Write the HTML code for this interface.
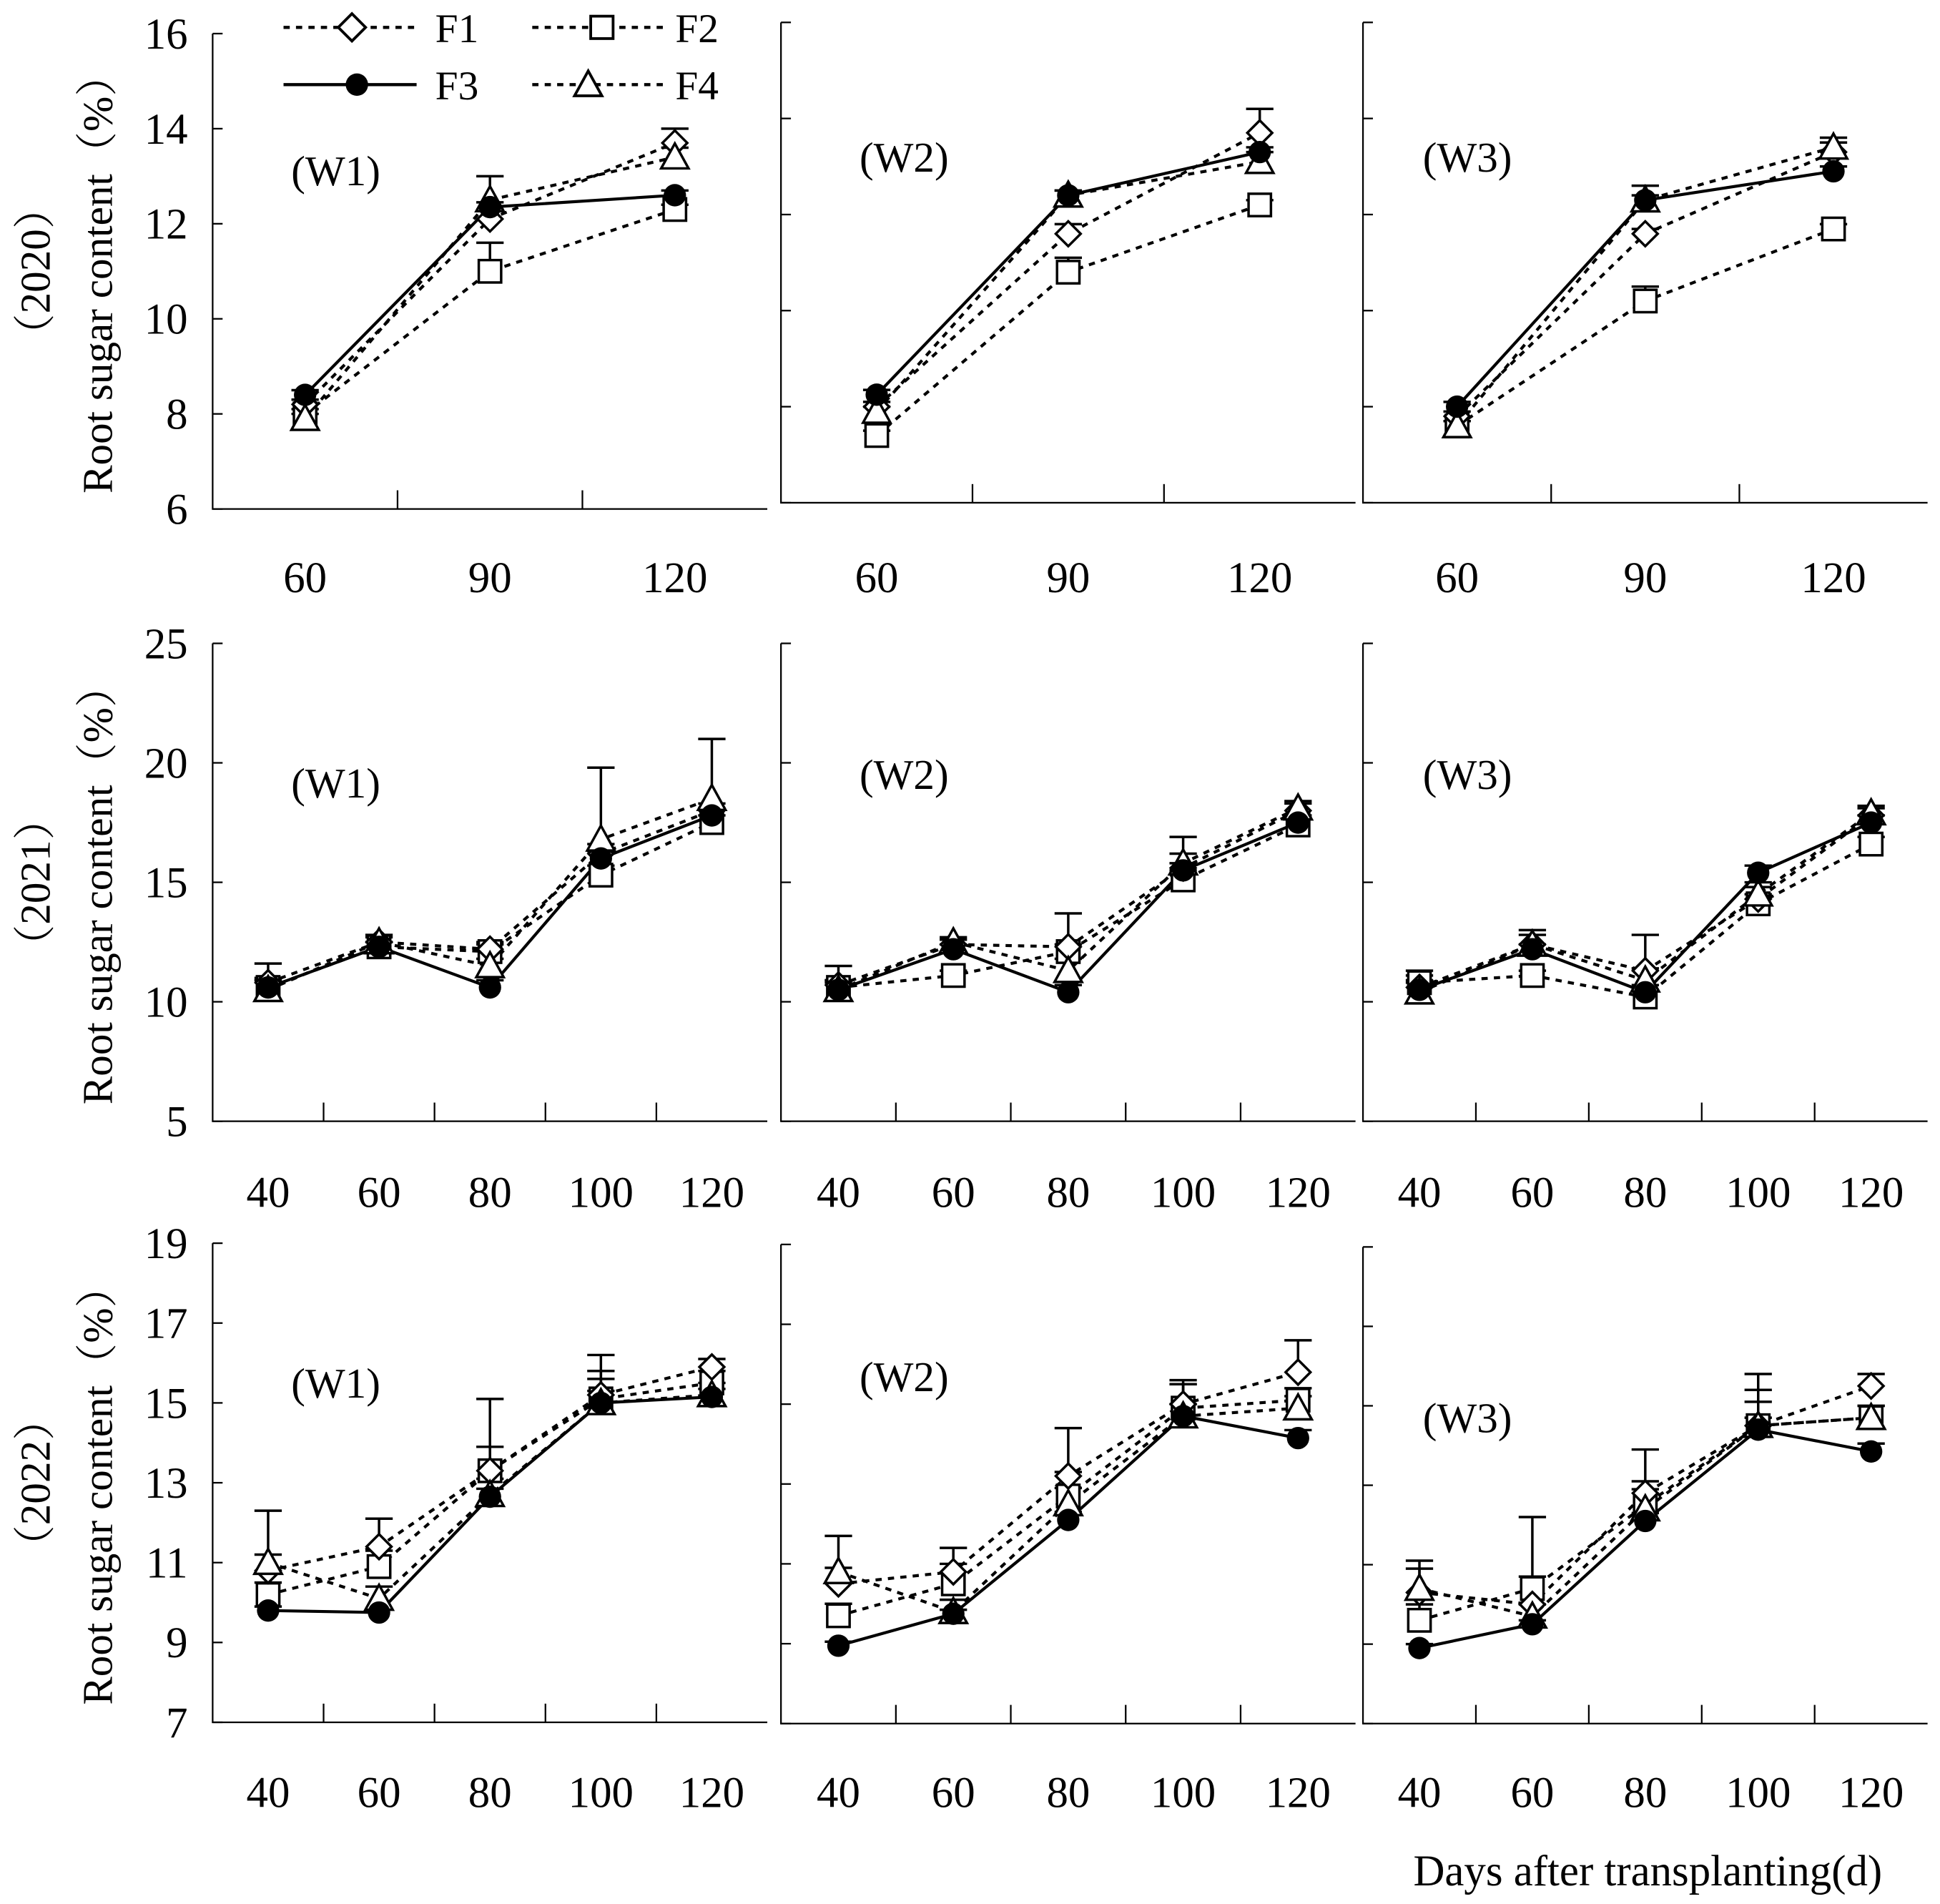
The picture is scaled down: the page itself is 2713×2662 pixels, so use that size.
<!DOCTYPE html>
<html><head><meta charset="utf-8"><style>
html,body{margin:0;padding:0;background:#fff}
svg{display:block}
text{font-family:"Liberation Serif",serif;fill:#000}
</style></head><body>
<svg id="chart" width="2713" height="2662" viewBox="0 0 1560 1530" preserveAspectRatio="none" xmlns="http://www.w3.org/2000/svg">
<g id="legend">
 <g>
  <line x1="228" y1="22" x2="335" y2="22" stroke="#000" stroke-width="2.5" stroke-dasharray="5,5"/>
  <polygon points="283,11 294,22 283,33 272,22" fill="#fff" stroke="#000" stroke-width="2.2"/>
  <text x="350" y="34" font-size="33">F1</text></g>
 <g>
  <line x1="428" y1="22" x2="535" y2="22" stroke="#000" stroke-width="2.5" stroke-dasharray="5,5"/>
  <rect x="475" y="13" width="18" height="18" fill="#fff" stroke="#000" stroke-width="2.2"/>
  <text x="543" y="34" font-size="33">F2</text></g>
 <g>
  <line x1="228" y1="68" x2="335" y2="68" stroke="#000" stroke-width="2.5"/>
  <circle cx="287" cy="68" r="9" fill="#000"/>
  <text x="350" y="80" font-size="33">F3</text></g>
 <g>
  <line x1="428" y1="68" x2="535" y2="68" stroke="#000" stroke-width="2.5" stroke-dasharray="5,5"/>
  <polygon points="473,57 484,77 462,77" fill="#fff" stroke="#000" stroke-width="2.2"/>
  <text x="543" y="80" font-size="33">F4</text></g>
</g>
<text x="1325" y="1515" font-size="35" text-anchor="middle">Days after transplanting(d)</text>
</svg>
<script>
// categories
const cats2020 = [60, 90, 120];
const catsOther = [40, 60, 80, 100, 120];
const yTicks2020 = [6, 8, 10, 12, 14, 16];
const yTicks2021 = [5, 10, 15, 20, 25];
const yTicks2022 = [7, 9, 11, 13, 15, 17, 19];
const years = ["2020", "2021", "2022"];
const sites = ["(W1)", "(W2)", "(W3)"];
// values [W1, W2, W3]
const F1_2020 = [[8.2, 12.1, 13.7], [8.0, 11.6, 13.7], [7.8, 11.6, 13.3]];
const F2_2020 = [[8.0, 11.0, 12.3], [7.4, 10.8, 12.2], [7.6, 10.2, 11.7]];
const F3_2020 = [[8.4, 12.35, 12.6], [8.25, 12.4, 13.3], [8.0, 12.3, 12.9]];
const F4_2020 = [[7.9, 12.5, 13.4], [7.9, 12.4, 13.1], [7.6, 12.3, 13.4]];
const F1_2021 = [[10.8, 12.5, 12.2, 16.2, 18.0], [10.7, 12.4, 12.3, 15.6, 18.0], [10.6, 12.4, 11.3, 14.3, 17.8]];
const F2_2021 = [[10.6, 12.3, 12.1, 15.3, 17.5], [10.6, 11.1, 12.1, 15.1, 17.4], [10.8, 11.1, 10.2, 14.1, 16.6]];
const F3_2021 = [[10.6, 12.3, 10.6, 16.0, 17.8], [10.5, 12.2, 10.4, 15.5, 17.5], [10.5, 12.2, 10.4, 15.4, 17.5]];
const F4_2021 = [[10.5, 12.5, 11.5, 16.8, 18.5], [10.5, 12.5, 11.3, 15.8, 18.1], [10.4, 12.4, 10.9, 14.5, 17.9]];
const F1_2022 = [[10.8, 11.4, 13.3, 15.2, 15.9], [10.5, 10.8, 13.2, 15.0, 15.8], [10.3, 10.0, 12.8, 14.5, 15.5]];
const F2_2022 = [[10.2, 10.9, 13.3, 15.1, 15.5], [9.7, 10.5, 12.7, 14.9, 15.1], [9.6, 10.4, 12.5, 14.5, 14.7]];
const F3_2022 = [[9.8, 9.75, 12.65, 15.0, 15.15], [8.95, 9.75, 12.1, 14.7, 14.15], [8.9, 9.5, 12.1, 14.4, 13.85]];
const F4_2022 = [[11.0, 10.1, 12.7, 15.0, 15.2], [10.8, 9.8, 12.5, 14.7, 14.9], [10.4, 9.7, 12.4, 14.5, 14.7]];
// upper error magnitudes
const E1_2020 = [[0.1, 0.2, 0.3], [0.1, 0.2, 0.5], [0.1, 0.1, 0.2]];
const E2_2020 = [[0.1, 0.6, 0.1], [0.1, 0.3, 0.1], [0.1, 0.3, 0.1]];
const E3_2020 = [[0.1, 0.1, 0.1], [0.1, 0.1, 0.1], [0.1, 0.3, 0.1]];
const E4_2020 = [[0.1, 0.5, 0.2], [0.1, 0.1, 0.2], [0.1, 0.1, 0.2]];
const E1_2021 = [[0.8, 0.3, 0.3, 0.4, 0.3], [0.8, 0.2, 1.4, 0.6, 0.3], [0.7, 0.4, 1.5, 0.5, 0.3]];
const E2_2021 = [[0.3, 0.2, 0.3, 0.4, 0.3], [0.3, 0.2, 0.3, 0.4, 0.3], [0.3, 0.2, 0.3, 0.4, 0.3]];
const E3_2021 = [[0.3, 0.2, 0.3, 0.3, 0.3], [0.3, 0.2, 0.3, 0.3, 0.3], [0.3, 0.2, 0.3, 0.3, 0.3]];
const E4_2021 = [[0.5, 0.2, 0.3, 3.0, 2.5], [0.4, 0.2, 0.5, 1.1, 0.3], [0.5, 0.6, 0.5, 0.5, 0.3]];
const E1_2022 = [[0.4, 0.7, 1.8, 0.6, 0.2], [0.4, 0.6, 1.2, 0.6, 0.8], [0.6, 0.7, 1.1, 0.9, 0.3]];
const E2_2022 = [[0.3, 0.4, 0.6, 0.5, 0.3], [0.3, 0.5, 0.6, 0.6, 0.3], [0.4, 1.8, 0.6, 1.3, 0.3]];
const E3_2022 = [[0.1, 0.1, 0.2, 0.3, 0.2], [0.1, 0.1, 0.2, 0.3, 0.2], [0.1, 0.1, 0.2, 0.3, 0.2]];
const E4_2022 = [[1.3, 0.3, 0.4, 1.2, 0.3], [0.9, 0.3, 0.4, 0.8, 0.3], [0.7, 0.3, 0.5, 0.6, 0.3]];

const NS = "http://www.w3.org/2000/svg";
const svg = document.getElementById("chart");
function mk(tag, attrs, parent) {
  const e = document.createElementNS(NS, tag);
  for (const k in attrs) e.setAttribute(k, attrs[k]);
  (parent || svg).appendChild(e);
  return e;
}
const cols = [[171, 617], [628, 1090], [1096, 1550]];
const rowGeo = [
  {tops: [27, 18, 18], bottoms: [409, 404, 404], cats: cats2020, ticks: yTicks2020, lab: 476,
   series: [F1_2020, F2_2020, F3_2020, F4_2020], errs: [E1_2020, E2_2020, E3_2020, E4_2020],
   wy: [138, 127, 127]},
  {tops: [517, 517, 517], bottoms: [901, 901, 901], cats: catsOther, ticks: yTicks2021, lab: 970,
   series: [F1_2021, F2_2021, F3_2021, F4_2021], errs: [E1_2021, E2_2021, E3_2021, E4_2021],
   wy: [630, 623, 623]},
  {tops: [999, 1000, 1002], bottoms: [1384, 1385, 1385], cats: catsOther, ticks: yTicks2022, lab: 1452,
   series: [F1_2022, F2_2022, F3_2022, F4_2022], errs: [E1_2022, E2_2022, E3_2022, E4_2022],
   wy: [1112, 1107, 1140]}
];
const wx = [270, 727, 1180];
const styles = ["diamond", "square", "circle", "triangle"];
const drawOrder = [1, 0, 3, 2];

rowGeo.forEach((r, ri) => {
  const tmin = r.ticks[0], tmax = r.ticks[r.ticks.length - 1];
  const midY = (r.tops[0] + r.bottoms[0]) / 2;
  const yl = mk("text", {x: 0, y: 0, "font-size": 34, "text-anchor": "middle",
    transform: `translate(90,${midY + 2}) rotate(-90)`});
  
  
  yl.textContent = "Root sugar content（%）";
  yl.style.fontFamily = '"Liberation Serif","Noto Serif CJK SC",serif';
  const yr = mk("text", {x: 0, y: 0, "font-size": 34, "text-anchor": "middle",
    transform: `translate(40,${midY}) rotate(-90)`});
  
  
  yr.textContent = "（" + years[ri] + "）";
  yr.style.fontFamily = '"Liberation Serif","Noto Serif CJK SC",serif';

  cols.forEach((c, ci) => {
    const top = r.tops[ci], bottom = r.bottoms[ci];
    const yS = v => bottom - (v - tmin) / (tmax - tmin) * (bottom - top);
    const g = mk("g", {});
    
    
    const n = r.cats.length, cw = (c[1] - c[0]) / n;
    const xS = i => c[0] + cw * (i + 0.5);
    const ax = mk("path", {d: `M${c[0]},${top} V${bottom} H${c[1]}`, fill: "none", stroke: "#000", "stroke-width": 1.3}, g);
    
    
    r.ticks.forEach(t => {
      const tk = mk("line", {x1: c[0], x2: c[0] + 8, y1: yS(t), y2: yS(t), stroke: "#000", "stroke-width": 1.3}, g);
      
      
      if (ci === 0) {
        const tl = mk("text", {x: c[0] - 20, y: yS(t) + 12, "font-size": 35, "text-anchor": "end"}, g);
        
        
        tl.textContent = t;
      }
    });
    for (let i = 1; i < n; i++) {
      const xt = mk("line", {x1: c[0] + cw * i, x2: c[0] + cw * i, y1: bottom, y2: bottom - 15, stroke: "#000", "stroke-width": 1.3}, g);
      
      
    }
    r.cats.forEach((cv, i) => {
      const xl = mk("text", {x: xS(i), y: r.lab, "font-size": 35, "text-anchor": "middle"}, g);
      
      
      xl.textContent = cv;
    });
    const wl = mk("text", {x: wx[ci], y: r.wy[ci] + 11, "font-size": 34, "text-anchor": "middle"}, g);
    
    
    wl.textContent = sites[ci];

    drawOrder.forEach(si => {
      const vals = r.series[si][ci], errs = r.errs[si][ci];
      vals.forEach((v, i) => {
        const x = xS(i), y1 = yS(v), y2 = yS(v + errs[i]);
        const eb = mk("path", {d: `M${x},${y1} V${y2} M${x - 11},${y2} H${x + 11}`, stroke: "#000", "stroke-width": 2, fill: "none"}, g);
        
        
      });
    });
    drawOrder.forEach(si => {
      const vals = r.series[si][ci];
      const pts = vals.map((v, i) => xS(i) + "," + yS(v)).join(" ");
      const ln = mk("polyline", {points: pts, fill: "none", stroke: "#000", "stroke-width": 2.4,
        "stroke-dasharray": styles[si] === "circle" ? "none" : "5,5"}, g);
      
      
    });
    drawOrder.forEach(si => {
      const vals = r.series[si][ci];
      vals.forEach((v, i) => {
        const x = xS(i), y = yS(v);
        let m;
        if (styles[si] === "diamond") m = mk("polygon", {points: `${x},${y - 10} ${x + 10},${y} ${x},${y + 10} ${x - 10},${y}`, fill: "#fff", stroke: "#000", "stroke-width": 2}, g);
        else if (styles[si] === "square") m = mk("rect", {x: x - 9, y: y - 9, width: 18, height: 18, fill: "#fff", stroke: "#000", "stroke-width": 2}, g);
        else if (styles[si] === "circle") m = mk("circle", {cx: x, cy: y, r: 9, fill: "#000"}, g);
        else m = mk("polygon", {points: `${x},${y - 11} ${x + 11},${y + 9} ${x - 11},${y + 9}`, fill: "#fff", stroke: "#000", "stroke-width": 2}, g);
        
        
      });
    });
  });
});
svg.appendChild(document.getElementById("legend"));
</script>
</body></html>
